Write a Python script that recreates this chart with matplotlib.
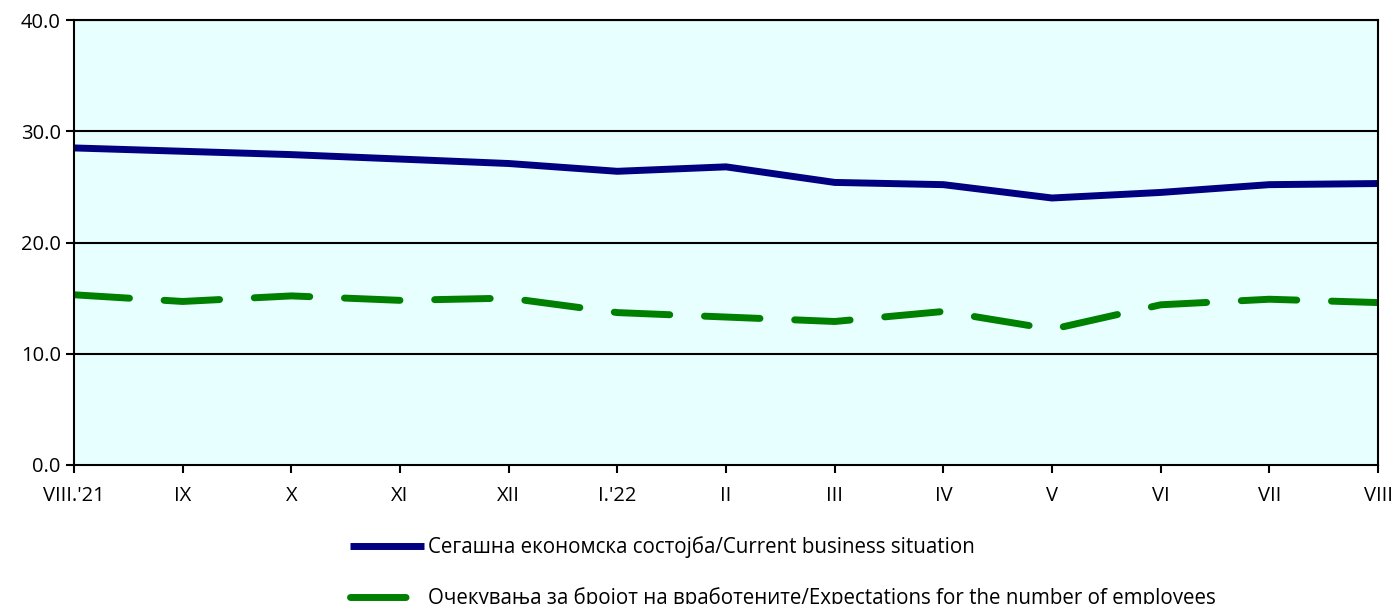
import matplotlib
matplotlib.use("Agg")
import matplotlib.pyplot as plt

FONT_SIZE = 14.5
LEGEND_SIZE = 14.8
plt.rcParams['font.family'] = ['Open Sans', 'DejaVu Sans']

months = ["VIII.'21", "IX", "X", "XI", "XII", "I.'22", "II", "III", "IV", "V", "VI", "VII", "VIII"]
current_business = [28.5, 28.2, 27.9, 27.5, 27.1, 26.4, 26.8, 25.4, 25.2, 24.0, 24.5, 25.2, 25.3]
employment_expect = [15.3, 14.7, 15.2, 14.8, 15.0, 13.7, 13.3, 12.9, 13.8, 12.2, 14.4, 14.9, 14.6]
yticks = [0, 10, 20, 30, 40]

label_cur = "Сегашна економска состојба/Current business situation"
label_emp = "Очекувања за бројот на вработените/Expectations for the number of employees"

fig = plt.figure(figsize=(13.96, 6.04), dpi=100)
ax = fig.add_axes([74/1396, 1-465/604, (1378-74)/1396, (465-20)/604])
ax.set_facecolor('#E8FFFF')

x = list(range(len(months)))
l1, = ax.plot(x, current_business, color='#000080', lw=5, solid_capstyle='butt')
l2, = ax.plot(x, employment_expect, color='#008000', lw=5, dashes=(8, 5),
              dash_capstyle='round')

ax.set_xlim(0, len(months)-1)
ax.set_ylim(0, 40)
ax.set_yticks(yticks)
ax.set_yticklabels(["%.1f" % v for v in yticks])
ax.set_xticks(x)
ax.set_xticklabels(months)
for v in yticks[1:]:
    ax.axhline(v, color='black', lw=1.5, zorder=1)
for s in ax.spines.values():
    s.set_linewidth(1.5)
ax.tick_params(axis='both', direction='out', length=6, width=1.5, labelsize=FONT_SIZE)
ax.tick_params(axis='x', pad=9)

fig.legend([l1, l2], [label_cur, label_emp], loc='upper left',
           bbox_to_anchor=(342/1396, 1-528/604), frameon=False, fontsize=LEGEND_SIZE,
           handlelength=3.6, handletextpad=0.2, labelspacing=1.4, borderaxespad=0)

plt.savefig('out.png', dpi=100)
